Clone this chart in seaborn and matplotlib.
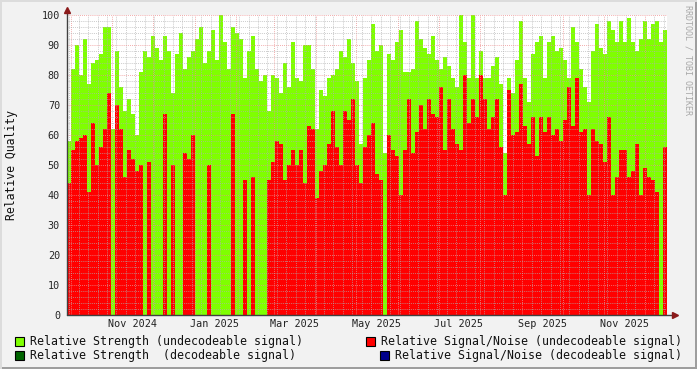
import numpy as np
import pandas as pd
import matplotlib
matplotlib.use('Agg')
import matplotlib.pyplot as plt
import matplotlib.dates as mdates
from matplotlib.patches import Rectangle
import seaborn as sns

# one value per ~3 day slot
start_time = '2024-09-28 09:00'
slot_freq = '4272min'

strength_undecodeable = [
    58, 82, 90, 80, 92, 77, 84, 85, 87, 96, 96, 62, 88, 76, 68, 72, 67, 60, 81, 88,
    86, 93, 89, 85, 93, 88, 74, 87, 94, 82,
    86, 88, 92, 96, 84, 88, 95, 85, 100, 91, 82, 96, 94, 92, 79, 88, 93, 82, 78, 80,
    68, 80, 79, 74, 84, 76, 91, 79, 78, 90,
    90, 82, 62, 75, 73, 79, 80, 82, 88, 86, 92, 84, 78, 57, 79, 85, 97, 88, 90, 54,
    87, 85, 91, 95, 81, 81, 82, 98, 92, 89,
    87, 93, 85, 82, 86, 83, 79, 76, 100, 91, 79, 100, 79, 88, 79, 79, 83, 86, 77, 54,
    79, 74, 85, 98, 79, 71, 87, 91, 93, 79,
    91, 93, 88, 89, 85, 79, 96, 91, 82, 76, 71, 88, 97, 89, 87, 98, 95, 91, 98, 91,
    99, 91, 88, 92, 98, 92, 97, 98, 91, 95,
]
snr_undecodeable = [
    44, 55, 58, 59, 60, 41, 64, 50, 56, 62, 74, 0, 70, 62, 46, 55, 52, 48, 50, 0,
    51, 0, 0, 0, 67, 0, 50, 0, 0, 54,
    52, 60, 0, 0, 0, 50, 0, 0, 0, 0, 0, 67, 0, 0, 45, 0, 46, 0, 0, 0,
    45, 51, 58, 57, 45, 50, 55, 50, 55, 44,
    63, 62, 39, 48, 50, 57, 68, 56, 50, 68, 65, 72, 50, 44, 56, 60, 64, 47, 45, 0,
    60, 55, 53, 40, 55, 72, 54, 61, 70, 62,
    72, 67, 66, 76, 55, 72, 62, 57, 55, 80, 64, 72, 66, 80, 72, 62, 66, 72, 56, 40,
    75, 60, 61, 77, 63, 57, 66, 53, 66, 61,
    66, 60, 62, 58, 65, 76, 63, 79, 61, 62, 40, 62, 58, 57, 51, 66, 40, 46, 55, 55,
    46, 48, 57, 40, 49, 46, 45, 41, 0, 56,
]

legend_labels = [
    'Relative Strength (undecodeable signal)',
    'Relative Signal/Noise (undecodeable signal)',
    'Relative Strength  (decodeable signal)',
    'Relative Signal/Noise (decodeable signal)',
]
legend_colors = ['#7FFF00', '#FF0000', '#006400', '#00008B']
label_months = ['2024-11-16', '2025-01-16', '2025-03-16', '2025-05-16',
                '2025-07-16', '2025-09-16', '2025-11-16']

MONO = 'DejaVu Sans Mono'
BG = '#f2f2f2'

slots = pd.date_range(start_time, periods=len(strength_undecodeable), freq=slot_freq)
step = (slots[1] - slots[0]) / pd.Timedelta(days=1)
x_num = mdates.date2num(slots) + step / 2
x_left = mdates.date2num(slots[0])
x_right = x_left + step * len(slots)

df = pd.DataFrame({'x': x_num, 'strength': strength_undecodeable, 'snr': snr_undecodeable})

sns.set_style('white')
plt.rcParams['font.family'] = [MONO, 'DejaVu Sans']

fig = plt.figure(figsize=(6.97, 3.69), dpi=100, facecolor=BG)
ax = fig.add_axes([67 / 697, 54 / 369, 600 / 697, 300 / 369])
ax.set_facecolor('white')

sns.barplot(data=df, x='x', y='strength', native_scale=True, width=1.0,
            color=legend_colors[0], saturation=1, linewidth=0, ax=ax, zorder=1)
sns.barplot(data=df, x='x', y='snr', native_scale=True, width=1.0,
            color=legend_colors[1], saturation=1, linewidth=0, ax=ax, zorder=2)

ax.set_xlim(x_left, x_right)
ax.set_ylim(0, 100)
ax.set_xlabel('')
ax.set_ylabel('')

# grid like rrdtool: gray minor, red major, on top of the data
ax.set_yticks(np.arange(0, 101, 10))
ax.set_yticks(np.arange(0, 101, 2), minor=True)
ax.xaxis.set_major_locator(mdates.MonthLocator())
ax.xaxis.set_minor_locator(mdates.WeekdayLocator(byweekday=mdates.MO))
ax.set_axisbelow(False)
ax.grid(which='minor', color='#b0b0b0', linestyle=(0, (1, 1.5)), linewidth=0.55, zorder=3)
ax.grid(which='major', color='#ee9090', linestyle=(0, (1, 1.5)), linewidth=0.6, zorder=4)

ax.tick_params(axis='y', which='major', length=3, color='#f08080', labelsize=7.3, pad=2)
ax.tick_params(axis='y', which='minor', length=2, color='#bbbbbb')
ax.tick_params(axis='x', which='major', length=3, color='#f08080', labelbottom=False)
ax.tick_params(axis='x', which='minor', length=2, color='#bbbbbb')
for lab in ax.get_yticklabels():
    lab.set_family(MONO)

for side in ['top', 'right', 'left', 'bottom']:
    ax.spines[side].set_visible(False)

# axes with arrows
ax.plot([0, 0], [0, 1.017], transform=ax.transAxes, color='#404040', lw=1, clip_on=False, zorder=6)
ax.plot([0, 1.013], [0, 0], transform=ax.transAxes, color='#404040', lw=1, clip_on=False, zorder=6)
ax.plot([0], [1.017], marker='^', markersize=4, color='#8b1a1a', transform=ax.transAxes, clip_on=False, zorder=7)
ax.plot([1.013], [0], marker='>', markersize=4, color='#8b1a1a', transform=ax.transAxes, clip_on=False, zorder=7)

# month labels centered in their month
trans = ax.get_xaxis_transform()
for m in label_months:
    d = pd.Timestamp(m)
    ax.text(mdates.date2num(d), -9 / 300, d.strftime('%b %Y'), transform=trans,
            ha='center', va='center', fontsize=7.3, family=MONO, color='#222222')

fig.text(12 / 697, 1 - 165 / 369, 'Relative Quality', rotation=90, ha='center', va='center',
         fontsize=8.3, family=MONO, color='#111111')
fig.text(688 / 697, 1 - 5 / 369, 'RRDTOOL / TOBI OETIKER', rotation=270, ha='center', va='top',
         fontsize=6, family=MONO, color='#a8a8a8')

# legend
legend_pos = [(15, 341, 30), (366, 341, 381), (15, 355, 30), (380, 355, 395)]
for (sx, sy, tx), lab, col in zip(legend_pos, legend_labels, legend_colors):
    fig.patches.append(Rectangle((sx / 697, 1 - (sy + 4.5) / 369), 9 / 697, 9 / 369,
                                 transform=fig.transFigure, facecolor=col,
                                 edgecolor='black', linewidth=0.8))
    fig.text(tx / 697, 1 - sy / 369, lab, ha='left', va='center', fontsize=8.4,
             family=MONO, color='#111111')

# rrdtool style frame shading
fig.patches.append(Rectangle((0, 0), 1, 2 / 369, transform=fig.transFigure,
                             facecolor='#9e9e9e', edgecolor='none'))
fig.patches.append(Rectangle((1 - 2 / 697, 0), 2 / 697, 1, transform=fig.transFigure,
                             facecolor='#9e9e9e', edgecolor='none'))
fig.patches.append(Rectangle((0, 1 - 2 / 369), 1, 2 / 369, transform=fig.transFigure,
                             facecolor='#dcdcdc', edgecolor='none'))
fig.patches.append(Rectangle((0, 0), 2 / 697, 1, transform=fig.transFigure,
                             facecolor='#dcdcdc', edgecolor='none'))

fig.savefig('out.png', dpi=100, facecolor=BG)
plt.close(fig)
